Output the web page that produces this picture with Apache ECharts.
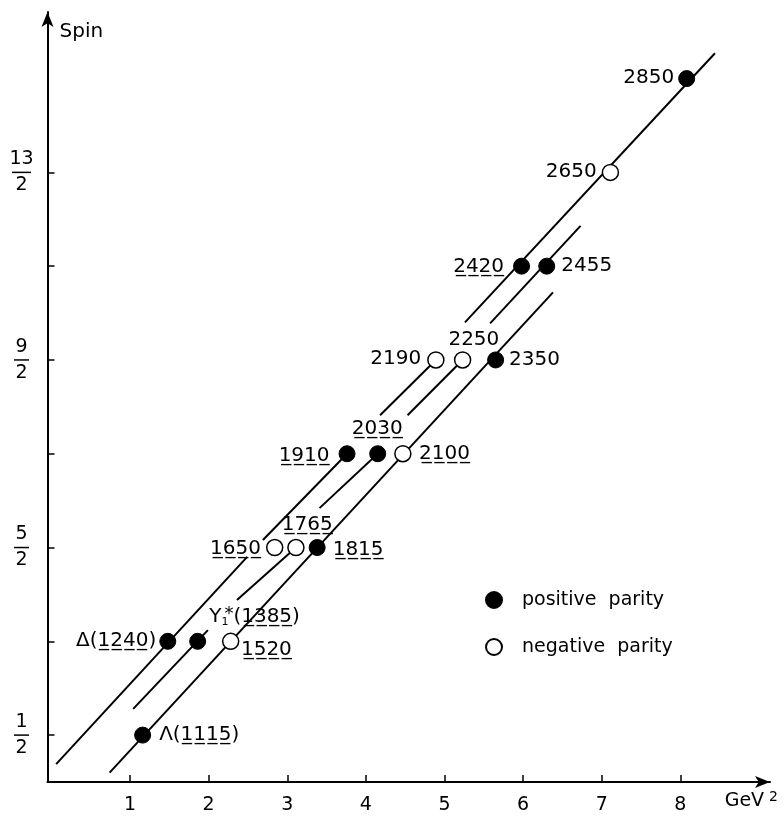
<!DOCTYPE html>
<html>
<head>
<meta charset="utf-8">
<script src="https://cdn.jsdelivr.net/npm/echarts@6/dist/echarts.min.js"></script>
<style>
html,body{margin:0;padding:0;background:#fff;}
#chart{width:784px;height:820px;}
</style>
</head>
<body>
<div id="chart"></div>
<script>
// ---- data ----
const resonanceNames = ['Λ(1115)','Δ(1240)','Y1*(1385)','1520','1650','1765','1815','1910','2030','2100','2190','2250','2350','2420','2455','2650','2850'];
const massSquared    = [1.16, 1.48, 1.86, 2.28, 2.84, 3.11, 3.38, 3.76, 4.15, 4.47, 4.89, 5.23, 5.65, 5.98, 6.30, 7.11, 8.08];
const spinValues     = [0.5, 1.5, 1.5, 1.5, 2.5, 2.5, 2.5, 3.5, 3.5, 3.5, 4.5, 4.5, 4.5, 5.5, 5.5, 6.5, 7.5];
const parity         = ['+','+','+','-','-','-','+','+','+','-','-','-','+','+','+','-','+'];
const underlined     = [true,true,true,true,true,true,true,true,true,true,false,false,false,true,false,false,false];

// trajectory line segments [[GeV^2, spin], [GeV^2, spin]]
const trajectorySegments = [
  [[0.06,0.19],[2.49,2.40]],
  [[2.69,2.58],[3.76,3.50]],
  [[4.18,3.91],[4.89,4.50]],
  [[5.26,4.90],[8.44,7.77]],
  [[1.04,0.78],[1.99,1.62]],
  [[2.36,1.94],[3.11,2.50]],
  [[3.41,2.92],[4.15,3.50]],
  [[4.53,3.91],[5.23,4.50]],
  [[5.58,4.89],[6.73,5.93]],
  [[0.74,0.10],[6.38,5.22]]
];

const xTickValues = [1,2,3,4,5,6,7,8];
const yTickValues = [0.5,1.5,2.5,3.5,4.5,5.5,6.5];
const yLabelValues = [0.5,2.5,4.5,6.5];
const yLabelNumerators = ['1','5','9','13'];
const yLabelDenominators = ['2','2','2','2'];
const legendNames = ['positive  parity','negative  parity'];

// ---- label placement (style, not data) ----
const labelPlacement = {
  'Λ(1115)':   ['left', 17, 0],
  'Δ(1240)':   ['right', -11, 0],
  'Y1*(1385)': ['left', 12, -24],
  '1520':      ['left', 11, 9],
  '1650':      ['right', -13, 2],
  '1765':      ['center', 12, -22],
  '1815':      ['left', 16, 3],
  '1910':      ['right', -17, 3],
  '2030':      ['center', 0, -24],
  '2100':      ['left', 17, 1],
  '2190':      ['right', -14, 0],
  '2250':      ['center', 12, -19],
  '2350':      ['left', 14, 0],
  '2420':      ['right', -17, 1],
  '2455':      ['left', 15, 0],
  '2650':      ['right', -13, 0],
  '2850':      ['right', -12, 0]
};

const FONT = 'DejaVu Sans';
const SYM = 16;

function ul(s){ return s.split('').map(c => c + '\u0332').join(''); }

function labelText(name, u){
  if (name === 'Y1*(1385)') {
    return '{m|Y}{sub|1}{sup|*}{m|(' + (u ? ul('1385') : '1385') + ')}';
  }
  const m = name.match(/^(.*\()(\d+)(\))$/);
  if (m) return '{m|' + m[1] + (u ? ul(m[2]) : m[2]) + m[3] + '}';
  return '{m|' + (u ? ul(name) : name) + '}';
}

const richLabel = {
  m:   {fontSize:20, fontFamily:FONT, color:'#000', lineHeight:22},
  sub: {fontSize:11, fontFamily:FONT, color:'#000', lineHeight:11, verticalAlign:'bottom', width:3},
  sup: {fontSize:18, fontFamily:FONT, color:'#000', lineHeight:12, verticalAlign:'top'}
};

function buildItems(sign){
  const items = [];
  for (let i = 0; i < resonanceNames.length; i++) {
    if (parity[i] !== sign) continue;
    const name = resonanceNames[i];
    const p = labelPlacement[name];
    items.push({
      name: name,
      value: [massSquared[i], spinValues[i]],
      label: {
        show: true,
        position: [SYM/2 + p[1], SYM/2 + p[2]],
        align: p[0],
        verticalAlign: 'middle',
        formatter: labelText(name, underlined[i]),
        rich: richLabel
      }
    });
  }
  return items;
}

const series = [];
trajectorySegments.forEach((seg, k) => {
  series.push({
    type: 'line',
    name: 'trajectory' + k,
    data: seg,
    symbol: 'none',
    showSymbol: false,
    silent: true,
    z: 2,
    lineStyle: {color:'#000', width:2},
    animation: false
  });
});
series.push({
  type: 'scatter',
  name: legendNames[0],
  data: buildItems('+'),
  symbol: 'circle',
  symbolSize: SYM,
  z: 5,
  itemStyle: {color:'#000', borderColor:'#000', borderWidth:1, opacity:1},
  animation: false
});
series.push({
  type: 'scatter',
  name: legendNames[1],
  data: buildItems('-'),
  symbol: 'circle',
  symbolSize: SYM,
  z: 5,
  itemStyle: {color:'#fff', borderColor:'#000', borderWidth:1.5, opacity:1},
  animation: false
});

const axisLineStyle = {color:'#000', width:2};

const option = {
  backgroundColor: '#fff',
  animation: false,
  textStyle: {fontFamily: FONT},
  grid: {left: 47.5, right: 14, top: 12, bottom: 38, containLabel: false},
  legend: {
    data: legendNames,
    orient: 'vertical',
    left: 485,
    top: 589,
    padding: 0,
    itemWidth: 16,
    itemHeight: 16,
    itemGap: 25,
    icon: 'circle',
    selectedMode: false,
    textStyle: {fontSize: 19, fontFamily: FONT, color: '#000', padding: [0,0,0,15], lineHeight: 22}
  },
  xAxis: {
    type: 'value',
    min: -0.05,
    max: 9.14,
    splitLine: {show: false},
    axisLine: {onZero: false, lineStyle: axisLineStyle, symbol: ['none','arrow'], symbolSize: [9,15]},
    axisTick: {inside: true, length: 7, lineStyle: {color:'#000', width:1.5}, customValues: xTickValues},
    axisLabel: {customValues: xTickValues, color:'#000', fontSize:19, fontFamily:FONT, margin:14},
    name: '{a|GeV}{s|2}',
    nameLocation: 'end',
    nameGap: 8,
    nameTextStyle: {
      align: 'right',
      verticalAlign: 'top',
      padding: [8,0,0,0],
      rich: {
        a: {fontSize:19, fontFamily:FONT, color:'#000', lineHeight:22, padding:[0,5,0,0]},
        s: {fontSize:14, fontFamily:FONT, color:'#000', lineHeight:12, verticalAlign:'top'}
      }
    }
  },
  yAxis: {
    type: 'value',
    min: 0,
    max: 8.21,
    splitLine: {show: false},
    axisLine: {onZero: false, lineStyle: axisLineStyle, symbol: ['none','arrow'], symbolSize: [9,15]},
    axisTick: {inside: true, length: 7, lineStyle: {color:'#000', width:1.5}, customValues: yTickValues},
    axisLabel: {
      customValues: yLabelValues,
      align: 'center',
      margin: 26,
      formatter: function (v) {
        let idx = -1;
        yLabelValues.forEach((t, i) => { if (Math.abs(t - v) < 1e-6) idx = i; });
        if (idx < 0) return '';
        const n = yLabelNumerators[idx];
        const bar = n.length > 1 ? 'bar2' : 'bar1';
        return '{n|' + n + '}\n{' + bar + '|}\n{d|' + yLabelDenominators[idx] + '}';
      },
      rich: {
        n: {fontSize:19, fontFamily:FONT, color:'#000', lineHeight:20, align:'center'},
        d: {fontSize:19, fontFamily:FONT, color:'#000', lineHeight:20, align:'center'},
        bar1: {width:15, height:1.5, lineHeight:6, backgroundColor:'#000', align:'center'},
        bar2: {width:19, height:1.5, lineHeight:6, backgroundColor:'#000', align:'center'}
      }
    },
    name: 'Spin',
    nameLocation: 'end',
    nameGap: -30,
    nameTextStyle: {align:'left', verticalAlign:'bottom', fontSize:20, fontFamily:FONT, color:'#000', padding:[0,0,0,12]}
  },
  series: series
};

const chart = echarts.init(document.getElementById('chart'), null, {renderer: 'canvas'});
chart.setOption(option);
</script>
</body>
</html>
